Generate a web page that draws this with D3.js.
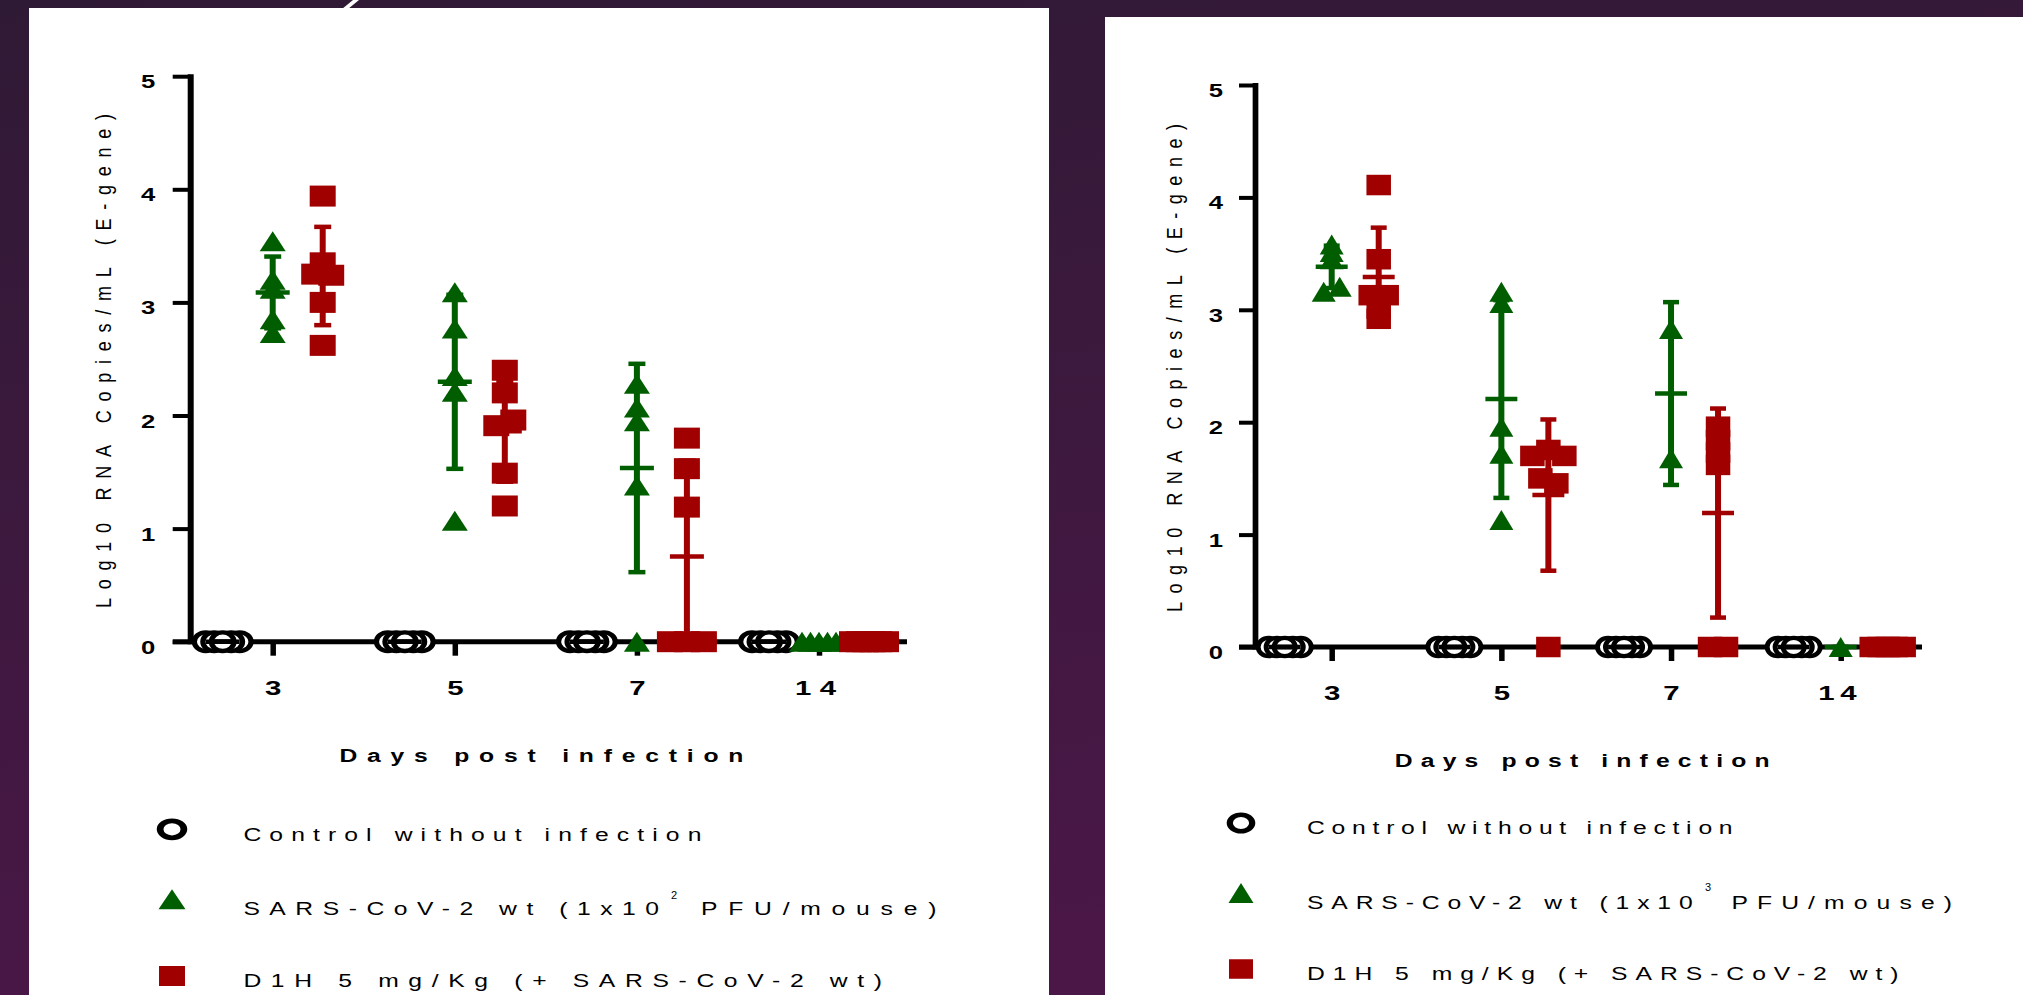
<!DOCTYPE html>
<html>
<head>
<meta charset="utf-8">
<title>Viral RNA load after SARS-CoV-2 infection</title>
<script src="https://cdn.jsdelivr.net/npm/d3@7"></script>
<style>
  html, body { margin: 0; padding: 0; overflow: hidden; background: #3a1a3d; }
  svg { display: block; }
  text { font-family: "Liberation Sans", Arial, sans-serif; }
</style>
</head>
<body>
<svg id="chart" width="2023" height="995"></svg>
<script>
// ---------------------------------------------------------------------------
// Data: log10 RNA copies/mL (E-gene), one inner list per sampling day
// ---------------------------------------------------------------------------
const days = ["3", "5", "7", "14"];
const groupKeys = ["control", "virus", "drug"];
const yTicks = [0, 1, 2, 3, 4, 5];

// 1x10^2 PFU/mouse
const lowControl = [[0, 0, 0, 0, 0], [0, 0, 0, 0, 0], [0, 0, 0, 0, 0], [0, 0, 0, 0, 0]];
const lowVirus = [
  [3.54, 3.20, 3.12, 2.85, 2.73],
  [3.09, 2.77, 2.35, 2.21, 1.07],
  [2.28, 2.07, 1.95, 1.38, 0],
  [0, 0, 0, 0, 0]
];
const lowDrug = [
  [3.94, 3.35, 3.25, 3.24, 3.00, 2.62],
  [2.40, 2.20, 1.91, 1.96, 1.49, 1.20],
  [1.80, 1.53, 1.19, 0, 0, 0],
  [0, 0, 0, 0, 0, 0]
];

// 1x10^3 PFU/mouse
const highControl = [[0, 0, 0, 0, 0], [0, 0, 0, 0, 0], [0, 0, 0, 0, 0], [0, 0, 0, 0, 0]];
const highVirus = [
  [3.58, 3.515, 3.45, 3.16, 3.205],
  [3.16, 3.06, 1.96, 1.72, 1.13],
  [2.83, 1.68],
  [0]
];
const highDrug = [
  [4.11, 3.45, 3.13, 2.92, 3.01, 3.13],
  [1.70, 1.753, 1.70, 1.50, 1.456, 0],
  [1.96, 1.84, 1.73, 1.62, 0, 0],
  [0, 0, 0, 0, 0]
];

const xTitle = "Days post infection";
const yTitle = "Log10 RNA Copies/mL (E-gene)";
const controlLabel = "Control without infection";
const virusLabelHead = "SARS-CoV-2 wt (1x10";
const virusLabelTail = "PFU/mouse)";
const drugLabel = "D1H 5 mg/Kg (+ SARS-CoV-2 wt)";

// ---------------------------------------------------------------------------
// Styling
// ---------------------------------------------------------------------------
const colors = { control: "#000000", virus: "#005e00", drug: "#a00000" };

const svg = d3.select("#chart");

// slide background
const defs = svg.append("defs");
const bg = defs.append("linearGradient").attr("id", "slideBg")
  .attr("x1", 0).attr("y1", 0).attr("x2", 0.25).attr("y2", 1);
bg.append("stop").attr("offset", "0%").attr("stop-color", "#2f1a35");
bg.append("stop").attr("offset", "100%").attr("stop-color", "#4a1747");
svg.append("rect").attr("width", 2023).attr("height", 995).attr("fill", "url(#slideBg)");

// small white accent stroke at the top of the slide
svg.append("polygon")
  .attr("points", "342,9 348,9 359,0 353,0")
  .attr("fill", "#ffffff");

// text with stretched glyphs and spaced letters, fitted to a given length
function spacedText(g, o) {
  const sx = o.sx || 1.3;
  const t = g.append("text")
    .attr("font-size", o.size)
    .attr("font-weight", o.weight || "normal")
    .attr("fill", "#000")
    .attr("text-anchor", o.anchor || "start")
    .attr("lengthAdjust", "spacing")
    .text(o.text);
  if (o.rotate) {
    t.attr("transform", `translate(${o.x},${o.y}) rotate(-90) scale(1,${sx})`)
     .attr("textLength", o.len);
  } else {
    t.attr("transform", `translate(${o.x},${o.y}) scale(${sx},1)`)
     .attr("textLength", o.len / sx);
  }
  return t;
}

// horizontal spreading of overlapping points within one column
function spreadPoints(values, y, step, maxSpread, rowH) {
  const pts = values.map((v, i) => ({ v, i, py: y(v), dx: 0 }));
  const byY = pts.slice().sort((a, b) => a.py - b.py || a.i - b.i);
  const clusters = [];
  let cur = [byY[0]];
  for (let j = 1; j < byY.length; j++) {
    if (byY[j].py - byY[j - 1].py < rowH) cur.push(byY[j]);
    else { clusters.push(cur); cur = [byY[j]]; }
  }
  clusters.push(cur);
  clusters.forEach(c => {
    if (c.length < 2) return;
    c.sort((a, b) => a.i - b.i);
    const s = Math.min(step, maxSpread / (c.length - 1));
    c.forEach((p, k) => { p.dx = (k - (c.length - 1) / 2) * s; });
  });
  // outer points first so the centre point ends up on top
  return pts.sort((a, b) => Math.abs(b.dx) - Math.abs(a.dx));
}

function drawSymbol(g, key, cx, cy, sz) {
  if (key === "control") {
    g.append("circle")
      .attr("transform", `translate(${cx},${cy}) scale(${sz.cs},1)`)
      .attr("r", sz.cr)
      .attr("fill", "#fff")
      .attr("stroke", colors.control)
      .attr("stroke-width", sz.cw);
  } else if (key === "virus") {
    const w = sz.tw, h = sz.th;
    g.append("path")
      .attr("d", `M${cx},${cy - h / 2}L${cx + w / 2},${cy + h / 2}L${cx - w / 2},${cy + h / 2}Z`)
      .attr("fill", colors.virus);
  } else {
    g.append("rect")
      .attr("x", cx - sz.sw / 2).attr("y", cy - sz.sh / 2)
      .attr("width", sz.sw).attr("height", sz.sh)
      .attr("fill", colors.drug);
  }
}

// ---------------------------------------------------------------------------
// One panel per infection dose
// ---------------------------------------------------------------------------
const panels = [
  {
    series: { control: lowControl, virus: lowVirus, drug: lowDrug },
    exponent: "2",
    f: {
      bgX: 29, bgY: 8, bgW: 1020,
      axisX: 190.7, yTick: 18, yLabelGap: 35.5, axisW: 6,
      xFirst: 272.7, xLast: 819, axisEnd: 907,
      y0: 641.7, y5: 76.2, off: 50,
      sym: { cr: 9.3, cw: 4.3, cs: 1.22, tw: 26, th: 20, sw: 26, sh: 21 },
      yTitleX: 110.5, yTitleY: 608, yTitleLen: 494,
      xTitleX: 339.4, xTitleY: 761.7, xTitleLen: 404,
      xTickLabelDy: 53.3,
      leg: {
        symX: 172, textX: 243.4,
        rows: [829.3, 899.3, 976], base: [840.7, 915, 986.7],
        controlLen: 458, headLen: 415.6, supX: 674, supY: 899, tailX: 701, tailLen: 235.4,
        drugLen: 638.6,
        sym: { cr: 8.5, cw: 4.8, cs: 1.4, tw: 27, th: 20, sw: 26, sh: 20 }
      }
    }
  },
  {
    series: { control: highControl, virus: highVirus, drug: highDrug },
    exponent: "3",
    f: {
      bgX: 1105, bgY: 17, bgW: 918,
      axisX: 1255.5, yTick: 16.5, yLabelGap: 32.5, axisW: 5.7,
      xFirst: 1331.7, xLast: 1840.7, axisEnd: 1922,
      y0: 647, y5: 85, off: 47,
      sym: { cr: 9.2, cw: 4.3, cs: 1.15, tw: 24, th: 20, sw: 24.5, sh: 20.5 },
      yTitleX: 1182, yTitleY: 612, yTitleLen: 488,
      xTitleX: 1394.8, xTitleY: 766.5, xTitleLen: 374.7,
      xTickLabelDy: 53,
      leg: {
        symX: 1241, textX: 1307,
        rows: [823, 893, 969], base: [834.4, 909, 980],
        controlLen: 425.6, headLen: 385.7, supX: 1708, supY: 891, tailX: 1731.4, tailLen: 220.6,
        drugLen: 591.5,
        sym: { cr: 8.3, cw: 4.6, cs: 1.35, tw: 25, th: 20, sw: 24, sh: 19.5 }
      }
    }
  }
];

panels.forEach(p => {
  const f = p.f;
  const g = svg.append("g");
  const k = f.off / 50;

  g.append("rect")
    .attr("x", f.bgX).attr("y", f.bgY)
    .attr("width", f.bgW).attr("height", 995 - f.bgY)
    .attr("fill", "#ffffff");

  const y = d3.scaleLinear().domain([0, 5]).range([f.y0, f.y5]);
  const xDay = d3.scalePoint().domain(days).range([f.xFirst, f.xLast]);
  const xGroup = d3.scalePoint().domain(groupKeys).range([-f.off, f.off]);

  // ---- y axis
  const yAxisG = g.append("g")
    .attr("transform", `translate(${f.axisX},0)`)
    .call(d3.axisLeft(y).tickValues(yTicks).tickSize(f.yTick).tickFormat(d3.format("d")));
  yAxisG.select(".domain").remove();
  yAxisG.selectAll(".tick line").attr("stroke", "#000").attr("stroke-width", 4);
  yAxisG.selectAll(".tick text")
    .attr("x", 0).attr("dy", null)
    .attr("transform", `translate(${-f.yLabelGap},11.5) scale(1.35,1)`)
    .attr("font-size", 19).attr("font-weight", "bold").attr("fill", "#000")
    .attr("font-family", "\"Liberation Sans\", Arial, sans-serif");
  g.append("line")
    .attr("x1", f.axisX).attr("x2", f.axisX)
    .attr("y1", y(5) - 2).attr("y2", y(0) + 2.5)
    .attr("stroke", "#000").attr("stroke-width", f.axisW);

  // ---- x axis
  g.append("line")
    .attr("x1", f.axisX - f.yTick).attr("x2", f.axisEnd)
    .attr("y1", y(0)).attr("y2", y(0))
    .attr("stroke", "#000").attr("stroke-width", 5);
  const xAxisG = g.append("g")
    .attr("transform", `translate(0,${y(0)})`)
    .call(d3.axisBottom(xDay).tickSize(14));
  xAxisG.select(".domain").remove();
  xAxisG.selectAll(".tick line").attr("stroke", "#000").attr("stroke-width", 5.5);
  xAxisG.selectAll(".tick text")
    .attr("y", 0).attr("dy", null)
    .attr("transform", `translate(0,${f.xTickLabelDy}) scale(1.4,1)`)
    .attr("font-size", 21).attr("font-weight", "bold").attr("fill", "#000")
    .attr("font-family", "\"Liberation Sans\", Arial, sans-serif")
    .each(function (d) {
      if (d.length > 1) {
        d3.select(this).attr("lengthAdjust", "spacing").attr("textLength", 41 * k / 1.4)
          .attr("transform", `translate(${-4 * k},${f.xTickLabelDy}) scale(1.4,1)`);
      }
    });

  // ---- titles
  spacedText(g, { text: yTitle, x: f.yTitleX, y: f.yTitleY, len: f.yTitleLen, size: 18, sx: 1.2, rotate: true });
  spacedText(g, { text: xTitle, x: f.xTitleX, y: f.xTitleY, len: f.xTitleLen, size: 19, weight: "bold", sx: 1.3 });

  // ---- points and mean ± SD
  days.forEach((day, di) => {
    groupKeys.forEach(key => {
      const vals = p.series[key][di];
      const cx = xDay(day) + xGroup(key);
      const pts = spreadPoints(vals, y, 17 * k, 34 * k, 7);
      const gg = g.append("g");
      pts.forEach(pt => drawSymbol(gg, key, cx + pt.dx, pt.py, f.sym));

      const m = d3.mean(vals);
      const sd = vals.length > 1 ? d3.deviation(vals) : 0;
      const lo = Math.max(0, m - sd), hi = m + sd;
      const col = colors[key];
      gg.append("line")
        .attr("x1", cx).attr("x2", cx).attr("y1", y(lo)).attr("y2", y(hi))
        .attr("stroke", col).attr("stroke-width", 6);
      gg.append("line")
        .attr("x1", cx - 8.5 * k).attr("x2", cx + 8.5 * k).attr("y1", y(hi)).attr("y2", y(hi))
        .attr("stroke", col).attr("stroke-width", 4.5);
      if (m - sd >= 0) {
        gg.append("line")
          .attr("x1", cx - 8.5 * k).attr("x2", cx + 8.5 * k).attr("y1", y(lo)).attr("y2", y(lo))
          .attr("stroke", col).attr("stroke-width", 4.5);
      }
      gg.append("line")
        .attr("x1", cx - 17 * k).attr("x2", cx + 17 * k).attr("y1", y(m)).attr("y2", y(m))
        .attr("stroke", col).attr("stroke-width", 4.5);
    });
  });

  // ---- legend
  const L = f.leg;
  const lg = g.append("g");
  groupKeys.forEach((key, i) => drawSymbol(lg, key, L.symX, L.rows[i], L.sym));
  spacedText(lg, { text: controlLabel, x: L.textX, y: L.base[0], len: L.controlLen, size: 19 });
  spacedText(lg, { text: virusLabelHead, x: L.textX, y: L.base[1], len: L.headLen, size: 19 });
  lg.append("text")
    .attr("x", L.supX).attr("y", L.supY)
    .attr("text-anchor", "middle")
    .attr("font-size", 11).attr("fill", "#000")
    .text(p.exponent);
  spacedText(lg, { text: virusLabelTail, x: L.tailX, y: L.base[1], len: L.tailLen, size: 19 });
  spacedText(lg, { text: drugLabel, x: L.textX, y: L.base[2], len: L.drugLen, size: 19 });
});
</script>
</body>
</html>
